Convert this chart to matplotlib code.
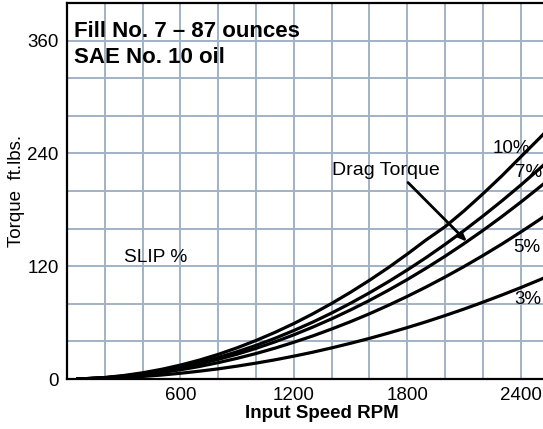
import matplotlib
matplotlib.use("Agg")
import matplotlib.pyplot as plt

# Input speed (RPM) at which the torque curves are tabulated
rpm = [50, 100, 200, 300, 400, 500, 600, 700, 800, 900, 1000, 1100, 1200,
       1300, 1400, 1500, 1600, 1700, 1800, 1900, 2000, 2100, 2200, 2300,
       2400, 2500, 2600]

# Torque (ft.lbs.) for each slip level
slip_10 = [0.1, 0.4, 1.6, 3.7, 6.6, 10.3, 14.8, 20.1, 26.2, 33.2, 41.0, 49.6,
           59.0, 69.3, 80.4, 92.3, 105.0, 118.5, 132.9, 148.0, 162.0, 178.8,
           197.0, 216.0, 236.2, 256.3, 277.2]
slip_7 = [0.1, 0.4, 1.4, 3.2, 5.7, 9.0, 12.9, 17.5, 22.9, 29.0, 35.8, 43.3,
          51.6, 60.5, 70.2, 80.6, 91.7, 103.5, 116.0, 129.2, 143.2, 157.9,
          173.3, 189.4, 206.2, 223.8, 242.0]
slip_6 = [0.1, 0.3, 1.3, 2.9, 5.2, 8.2, 11.8, 16.0, 20.9, 26.4, 32.6, 39.5,
          47.0, 55.2, 64.0, 73.5, 83.6, 94.4, 105.8, 117.9, 130.6, 144.0,
          158.0, 172.7, 188.1, 204.1, 220.7]
slip_5 = [0.1, 0.3, 1.1, 2.4, 4.3, 6.8, 9.8, 13.3, 17.4, 22.0, 27.1, 32.8,
          39.1, 45.8, 53.2, 61.0, 69.4, 78.4, 87.9, 97.9, 108.5, 119.6,
          131.3, 143.5, 156.3, 169.6, 183.4]
slip_3 = [0.0, 0.2, 0.7, 1.5, 2.7, 4.2, 6.1, 8.3, 10.8, 13.7, 16.9, 20.4,
          24.3, 28.5, 33.1, 38.0, 43.2, 48.8, 54.7, 60.9, 67.5, 74.4, 81.7,
          89.3, 97.2, 105.5, 114.1]

x_ticks = [600, 1200, 1800, 2400]
y_ticks = [0, 120, 240, 360]

FONT = ["Liberation Sans", "DejaVu Sans"]
plt.rcParams["font.family"] = FONT

fig = plt.figure(figsize=(5.43, 4.29), dpi=100)
ax = fig.add_axes([67 / 543, 50 / 429, 476 / 543, 376 / 429])

grid_color = "#a3b1c6"
for gx in range(200, 2600, 200):
    ax.axvline(gx, color=grid_color, lw=1.4, zorder=1)
for gy in range(40, 400, 40):
    ax.axhline(gy, color=grid_color, lw=1.4, zorder=1)

for series in (slip_10, slip_7, slip_6, slip_5, slip_3):
    ax.plot(rpm, series, color="black", lw=2.3, solid_capstyle="butt",
            zorder=3)

ax.set_xlim(0, 2518)
ax.set_ylim(0, 400)
ax.set_xticks(x_ticks)
ax.set_yticks(y_ticks)
ax.tick_params(axis="both", length=0, labelsize=13.5)
ax.tick_params(axis="x", pad=6)
ax.tick_params(axis="y", pad=6)

for side in ("left", "bottom", "top"):
    ax.spines[side].set_linewidth(1.6)
    ax.spines[side].set_color("black")
ax.spines["right"].set_visible(False)

ax.set_xlabel("Input Speed RPM", fontsize=13.5, fontweight="bold")
ax.xaxis.set_label_coords(0.536, -0.07)
ax.set_ylabel("Torque  ft.lbs.", fontsize=13.5)
ax.yaxis.set_label_coords(-0.088, 0.5)

ax.text(37, 364, "Fill No. 7 \u2013 87 ounces", fontsize=16,
        fontweight="bold", zorder=4)
ax.text(37, 336, "SAE No. 10 oil", fontsize=16, fontweight="bold",
        zorder=4)
ax.text(302, 124.5, "SLIP %", fontsize=13.8, zorder=4)

ax.text(2249, 240, "10%", fontsize=13.5, zorder=4)
ax.text(2370, 215, "7%", fontsize=13.5, zorder=4)
ax.text(2363, 135, "5%", fontsize=13.5, zorder=4)
ax.text(2366, 80, "3%", fontsize=13.5, zorder=4)

ax.annotate("Drag Torque", xy=(2116, 146), xytext=(1402, 217),
            fontsize=14, zorder=4, annotation_clip=False)
ax.annotate("", xy=(2116, 146), xytext=(1804, 209),
            arrowprops=dict(arrowstyle="-|>,head_length=0.5,head_width=0.2",
                            color="black", lw=2, shrinkA=0, shrinkB=0),
            zorder=4)

fig.savefig("out.png", dpi=100)
